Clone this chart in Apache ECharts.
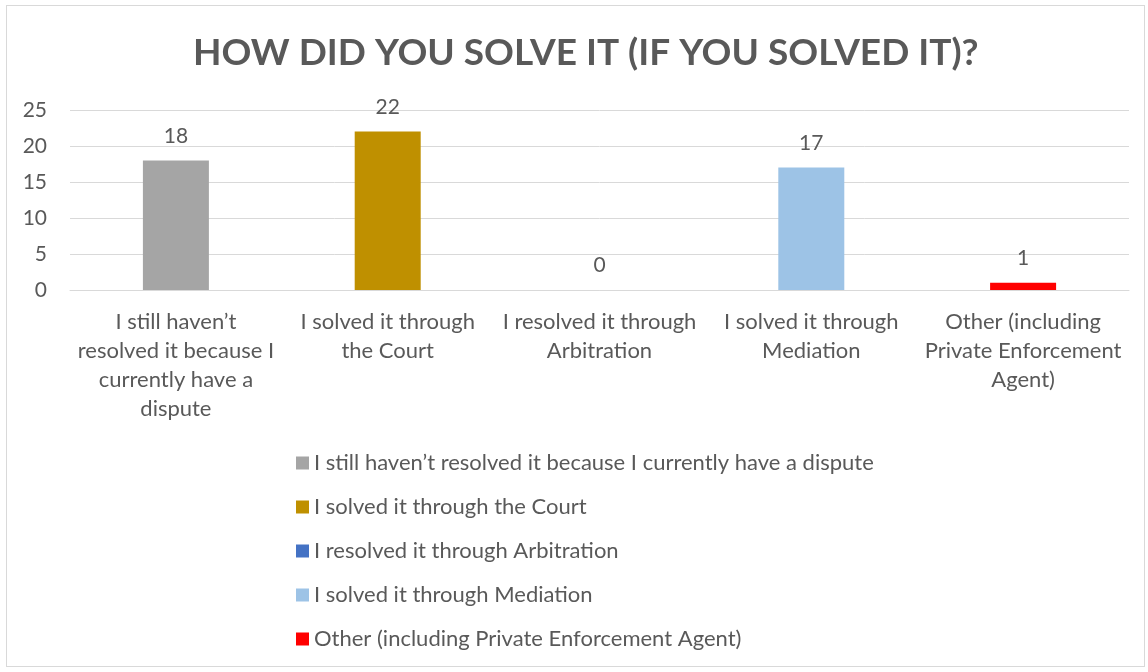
<!DOCTYPE html>
<html>
<head>
<meta charset="utf-8">
<script src="https://cdn.jsdelivr.net/npm/echarts@6/dist/echarts.min.js"></script>
<style>
  html, body { margin: 0; padding: 0; background: #fff; }
  #frame { position: absolute; left: 6px; top: 5px; width: 1139px; height: 662px; border: 1px solid #d9d9d9; box-sizing: border-box; }
  #chart { position: absolute; left: 0; top: 0; width: 1148px; height: 672px; }
</style>
</head>
<body>
<div id="frame"></div>
<div id="chart"></div>
<script>
// Survey answers: how respondents solved their dispute
const categories = [
  'I still haven\u2019t resolved it because I currently have a dispute',
  'I solved it through the Court',
  'I resolved it through Arbitration',
  'I solved it through Mediation',
  'Other (including Private Enforcement Agent)'
];
const axisLabels = [
  'I still haven\u2019t\nresolved it because I\ncurrently have a\ndispute',
  'I solved it through\nthe Court',
  'I resolved it through\nArbitration',
  'I solved it through\nMediation',
  'Other (including\nPrivate Enforcement\nAgent)'
];
const counts = [18, 22, 0, 17, 1];
const colors = ['#A5A5A5', '#BF9000', '#4472C4', '#9DC3E6', '#FF0000'];
const yTicks = { min: 0, max: 25, interval: 5 };

const FONT = 'Lato, "Noto Sans", sans-serif';
const TEXT = '#595959';

const chart = echarts.init(document.getElementById('chart'), null, { renderer: 'canvas' });

const series = categories.map((name, i) => ({
  name: name,
  type: 'bar',
  stack: 'all',
  barWidth: 66,
  itemStyle: { color: colors[i] },
  label: {
    show: true,
    position: 'top',
    distance: 14,
    color: TEXT,
    fontFamily: FONT,
    fontSize: 21
  },
  data: counts.map((v, j) => (j === i ? v : '-'))
}));

chart.setOption({
  animation: false,
  title: {
    text: 'HOW DID YOU SOLVE IT (IF YOU SOLVED IT)?',
    left: 188,
    top: 30,
    textStyle: { color: TEXT, fontFamily: FONT, fontWeight: 'bold', fontSize: 37 }
  },
  grid: { left: 70, right: 19, top: 110, bottom: 382 },
  xAxis: {
    type: 'category',
    data: axisLabels,
    axisLine: { lineStyle: { color: '#d9d9d9', width: 1 } },
    axisTick: { show: false },
    axisLabel: {
      interval: 0,
      color: TEXT,
      fontFamily: FONT,
      fontSize: 22,
      lineHeight: 29,
      margin: 17
    }
  },
  yAxis: {
    type: 'value',
    min: yTicks.min,
    max: yTicks.max,
    interval: yTicks.interval,
    axisLine: { show: false },
    axisTick: { show: false },
    splitLine: { lineStyle: { color: '#d9d9d9', width: 1 } },
    axisLabel: { color: TEXT, fontFamily: FONT, fontSize: 21, margin: 23 }
  },
  legend: {
    orient: 'vertical',
    left: 291,
    top: 447,
    itemWidth: 13,
    itemHeight: 13,
    itemGap: 22,
    icon: 'rect',
    data: categories,
    textStyle: { color: TEXT, fontFamily: FONT, fontSize: 22, lineHeight: 22 }
  },
  series: series
});
</script>
</body>
</html>
